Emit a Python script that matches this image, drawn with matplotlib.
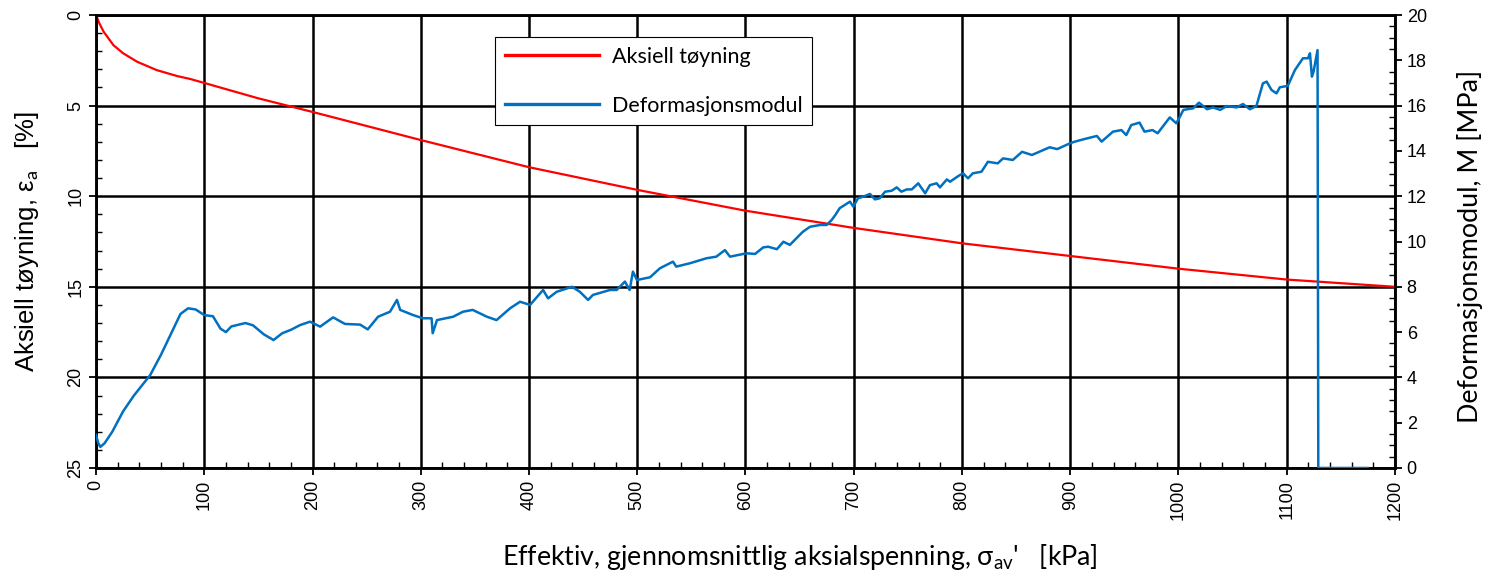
import matplotlib
matplotlib.use("Agg")
import matplotlib.pyplot as plt
from matplotlib.ticker import MultipleLocator
from matplotlib.lines import Line2D

# Aksiell tøyning (red, left axis, inverted)
stress_red = [0, 3, 7, 16, 25, 38, 56, 75, 87, 100, 150, 200, 300, 400, 500,
              600, 700, 800, 900, 1000, 1100, 1200]
strain = [0, 0.45, 0.92, 1.66, 2.11, 2.58, 3.04, 3.37, 3.53, 3.75, 4.6, 5.35,
          6.9, 8.4, 9.65, 10.8, 11.75, 12.6, 13.3, 14.0, 14.6, 15.0]

# Deformasjonsmodul (blue, right axis)
stress_blue = [0, 2, 4, 8, 15, 25, 35, 45, 50, 60, 70, 78, 85, 92, 100, 108,
               115, 120, 125, 138, 145, 155, 164, 172, 180, 188.5, 197.7, 207,
               219, 230, 244, 251, 260.6, 271.6, 278, 281, 293, 302, 310, 311,
               315, 330, 339, 348, 361, 370, 382.5, 391.7, 401, 413, 417.6,
               425.6, 435, 439.7, 447, 454.6, 459, 474.8, 481, 488.6, 493, 496,
               499.7, 511.8, 521, 533, 536, 548.7, 564, 573, 581, 585.7, 601,
               608.8, 616.4, 621, 629, 635, 641, 647, 653, 659.6, 668.8, 675,
               679.6, 683, 687, 696.5, 699.6, 704, 708.8, 715, 719.6, 724, 729,
               735, 739.7, 744, 749, 753.6, 759.6, 766, 770.4, 776.6, 779.7,
               786, 789, 796.6, 801, 805.6, 810, 818, 824, 833, 838, 847, 855.5,
               864.6, 881, 888, 900, 904.4, 912, 924.6, 929, 939.5, 947.3,
               951.8, 956.4, 964, 968.6, 976, 980.8, 985.4, 992, 998, 1001.4,
               1004.5, 1013.6, 1019, 1026.4, 1032, 1038.5, 1044.6, 1053.8,
               1059.6, 1066, 1072, 1078, 1081.5, 1086, 1090.6, 1093.7, 1101,
               1107.6, 1115, 1119.7, 1121.5, 1123.3, 1124.8, 1128.5, 1129.2,
               1175]
modulus = [1.46, 1.1, 0.93, 1.1, 1.6, 2.5, 3.2, 3.8, 4.1, 5.0, 6.0, 6.8, 7.05,
           7.0, 6.75, 6.7, 6.15, 6.0, 6.25, 6.4, 6.3, 5.9, 5.65, 5.95, 6.1,
           6.31, 6.46, 6.24, 6.65, 6.36, 6.33, 6.12, 6.68, 6.9, 7.42, 6.98,
           6.75, 6.61, 6.61, 5.95, 6.53, 6.68, 6.9, 6.98, 6.68, 6.53, 7.05,
           7.34, 7.2, 7.86, 7.49, 7.78, 7.93, 8.0, 7.78, 7.42, 7.64, 7.86,
           7.86, 8.23, 7.86, 8.67, 8.3, 8.42, 8.82, 9.11, 8.89, 9.04, 9.26,
           9.33, 9.62, 9.33, 9.48, 9.45, 9.74, 9.77, 9.66, 9.99, 9.85, 10.14,
           10.43, 10.65, 10.73, 10.73, 10.95, 11.17, 11.47, 11.76, 11.54,
           11.91, 11.98, 12.1, 11.86, 11.91, 12.2, 12.24, 12.39, 12.2, 12.3,
           12.3, 12.57, 12.13, 12.49, 12.57, 12.39, 12.74, 12.64, 12.89, 13.01,
           12.79, 13.01, 13.08, 13.52, 13.45, 13.67, 13.6, 13.96, 13.82,
           14.16, 14.08, 14.34, 14.41, 14.51, 14.66, 14.41, 14.85, 14.92,
           14.7, 15.14, 15.25, 14.85, 14.92, 14.78, 15.07, 15.48, 15.22,
           15.51, 15.81, 15.88, 16.13, 15.84, 15.92, 15.81, 15.98, 15.92,
           16.07, 15.84, 15.98, 16.98, 17.06, 16.69, 16.54, 16.81, 16.87,
           17.57, 18.09, 18.09, 18.31, 17.28, 17.5, 18.45, 0, 0]

plt.rcParams['font.family'] = ['Liberation Sans', 'DejaVu Sans']
plt.rcParams['mathtext.fontset'] = 'custom'
plt.rcParams['mathtext.rm'] = 'Lato'
plt.rcParams['mathtext.it'] = 'Lato'

fig = plt.figure(figsize=(15.03, 5.82), dpi=100)
ax = fig.add_axes([0.0639, 0.1959, 0.8642, 0.7783])
ax2 = ax.twinx()

red = '#FF0000'
blue = '#0070C0'

ax.plot(stress_red, strain, color=red, lw=1.6, zorder=3)
ax2.plot(stress_blue, modulus, color=blue, lw=1.8, zorder=3)

ax.set_xlim(0, 1200)
ax.set_ylim(25, 0)
ax2.set_ylim(0, 20)

ax.xaxis.set_major_locator(MultipleLocator(100))
ax.xaxis.set_minor_locator(MultipleLocator(20))
ax.yaxis.set_major_locator(MultipleLocator(5))
ax.yaxis.set_minor_locator(MultipleLocator(1))
ax2.yaxis.set_major_locator(MultipleLocator(2))
ax2.yaxis.set_minor_locator(MultipleLocator(0.5))

ax.grid(True, which='major', color='black', lw=1.8)
ax.set_axisbelow(True)

for a in (ax, ax2):
    for s in a.spines.values():
        s.set_linewidth(1.8)
    a.tick_params(which='major', direction='out', length=5, width=1.3,
                  labelsize=13)
    a.tick_params(which='minor', direction='in', length=4, width=1.0)

ax.tick_params(axis='x', labelrotation=90)
ax.tick_params(axis='y', labelrotation=90)
for lab in ax.get_yticklabels():
    lab.set_verticalalignment('center')

calibri_like = ['Lato', 'DejaVu Sans']
ax.set_xlabel(r"Effektiv, gjennomsnittlig aksialspenning, σ$_{\rm av}$'   [kPa]",
              family=calibri_like, fontsize=19.3)
ax.xaxis.set_label_coords(0.542, -0.163)
ax.set_ylabel("Aksiell tøyning, ε$_{\\rm a}$   [%]",
              family=['Liberation Sans', 'DejaVu Sans'], fontsize=18.5)
ax.yaxis.set_label_coords(-0.0423, 0.5)
ax2.set_ylabel("Deformasjonsmodul, M [MPa]", family=calibri_like, fontsize=19.3)
ax2.yaxis.set_label_coords(1.0477, 0.49)

handles = [Line2D([], [], color=red, lw=2.4), Line2D([], [], color=blue, lw=2.4)]
leg = ax.legend(handles, ['Aksiell tøyning', 'Deformasjonsmodul'],
                loc='upper left', bbox_to_anchor=(0.3072, 0.9514),
                borderaxespad=0, handlelength=4.4, handletextpad=0.56,
                labelspacing=1.34, borderpad=0.45,
                fancybox=False, framealpha=1, edgecolor='black',
                prop={'family': calibri_like, 'size': 15.5})
leg.get_frame().set_linewidth(0.8)
leg.set_zorder(10)

fig.savefig('out.png', dpi=100)
